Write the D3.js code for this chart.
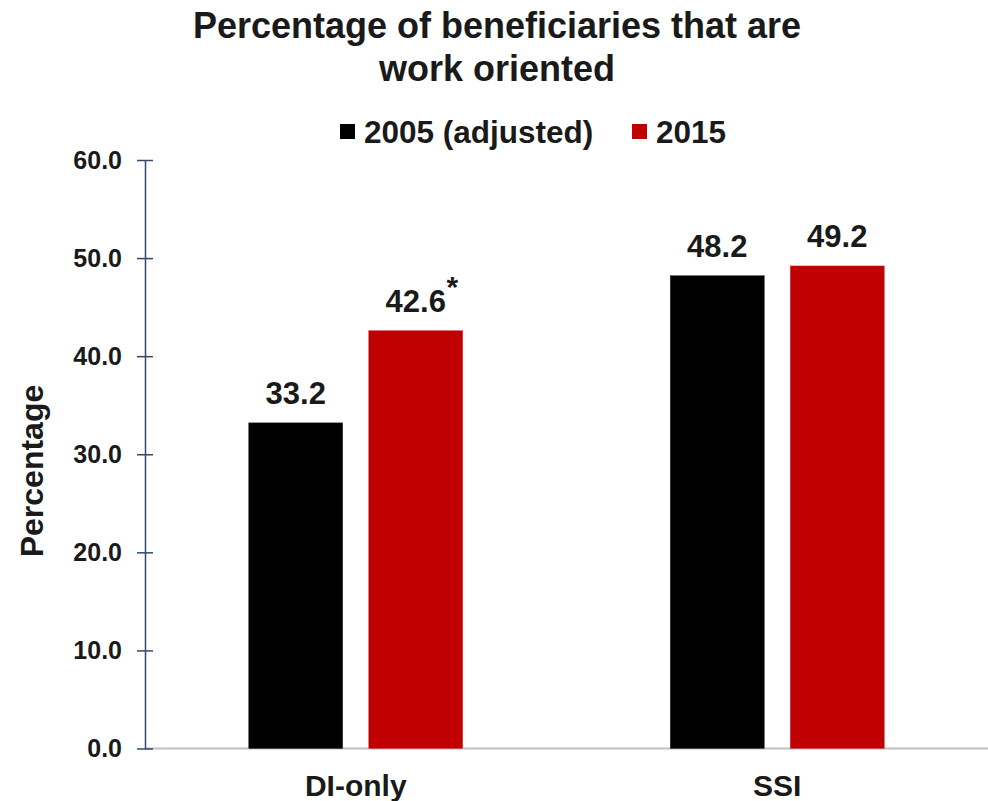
<!DOCTYPE html>
<html>
<head>
<meta charset="utf-8">
<script src="https://cdn.jsdelivr.net/npm/d3@7"></script>
<style>
  html, body { margin: 0; padding: 0; background: #fff; }
  svg { display: block; font-family: "Liberation Sans", Arial, sans-serif; }
</style>
</head>
<body>
<script>
// Share of beneficiaries that are work oriented, by program and year
const categories = ["DI-only", "SSI"];
const seriesNames = ["2005 (adjusted)", "2015"];
const values2005 = [33.2, 48.2];
const values2015 = [42.6, 49.2];
const significant2015 = [true, false];   // marked with an asterisk
const yTicks = [0, 10, 20, 30, 40, 50, 60];
const colors = ["#000000", "#C00000"];

const W = 988, H = 801;
const svg = d3.select("body").append("svg").attr("width", W).attr("height", H);

const plot = { left: 145, right: 988, top: 160, bottom: 748.5 };

const x = d3.scaleBand().domain(categories).range([plot.left, plot.right]).padding(0);
const y = d3.scaleLinear().domain([0, 60]).range([plot.bottom, plot.top]);

const barW = 94, innerGap = 26;
const series = [values2005, values2015];
const textColor = "#1a1a1a";

// Title
svg.append("text").attr("x", 497).attr("y", 38).attr("text-anchor", "middle")
  .attr("font-size", 36).attr("font-weight", "bold").attr("fill", textColor)
  .text("Percentage of beneficiaries that are");
svg.append("text").attr("x", 497).attr("y", 81).attr("text-anchor", "middle")
  .attr("font-size", 36).attr("font-weight", "bold").attr("fill", textColor)
  .text("work oriented");

// Legend
const legendItems = [
  { name: seriesNames[0], color: colors[0], sx: 340, tx: 364 },
  { name: seriesNames[1], color: colors[1], sx: 632, tx: 656 }
];
const lg = svg.append("g");
legendItems.forEach(d => {
  lg.append("rect").attr("x", d.sx).attr("y", 124).attr("width", 15).attr("height", 15).attr("fill", d.color);
  lg.append("text").attr("x", d.tx).attr("y", 143).attr("font-size", 31.5).attr("font-weight", "bold")
    .attr("fill", textColor).text(d.name);
});

// Baseline
svg.append("line").attr("x1", plot.left).attr("x2", plot.right)
  .attr("y1", y(0)).attr("y2", y(0)).attr("stroke", "#BFBFBF").attr("stroke-width", 2);

// Y axis
const yAxis = d3.axisLeft(y).tickValues(yTicks).tickFormat(d3.format(".1f"))
  .tickSizeInner(0).tickSizeOuter(0).tickPadding(23);
const ya = svg.append("g").attr("transform", `translate(${plot.left},0)`).call(yAxis);
ya.select(".domain").attr("stroke", "#2F4A6D").attr("stroke-width", 1.5);
ya.selectAll(".tick text").attr("font-size", 25).attr("font-weight", "bold").attr("fill", textColor)
  .attr("font-family", "Liberation Sans, Arial, sans-serif");
ya.selectAll(".tick").append("line").attr("x1", -8).attr("x2", 8)
  .attr("stroke", "#2F4A6D").attr("stroke-width", 1.5);

// Y axis title
svg.append("text").attr("transform", `translate(43,471) rotate(-90)`).attr("text-anchor", "middle")
  .attr("font-size", 32).attr("font-weight", "bold").attr("fill", textColor).text("Percentage");

// Bars, value labels and category labels
categories.forEach((cat, ci) => {
  const center = x(cat) + x.bandwidth() / 2;
  series.forEach((vals, si) => {
    const v = vals[ci];
    const bx = si === 0 ? center - innerGap / 2 - barW : center + innerGap / 2;
    svg.append("rect").attr("x", bx).attr("y", y(v)).attr("width", barW)
      .attr("height", y(0) - y(v)).attr("fill", colors[si])
      .attr("stroke", si === 0 ? "#333" : "#D04040").attr("stroke-width", 0.5);
    const label = svg.append("text").attr("x", bx + barW / 2).attr("y", y(v) - 19)
      .attr("text-anchor", "middle").attr("font-size", 31).attr("font-weight", "bold")
      .attr("fill", textColor).text(d3.format(".1f")(v));
    if (si === 1 && significant2015[ci]) {
      const w = label.node().getComputedTextLength();
      svg.append("text").attr("x", bx + barW / 2 + w / 2 + 0.5).attr("y", y(v) - 34)
        .attr("font-size", 30).attr("font-weight", "bold").attr("fill", textColor).text("*");
    }
  });
  svg.append("text").attr("x", center).attr("y", 796).attr("text-anchor", "middle")
    .attr("font-size", 30).attr("font-weight", "bold").attr("fill", textColor).text(cat);
});
</script>
</body>
</html>
